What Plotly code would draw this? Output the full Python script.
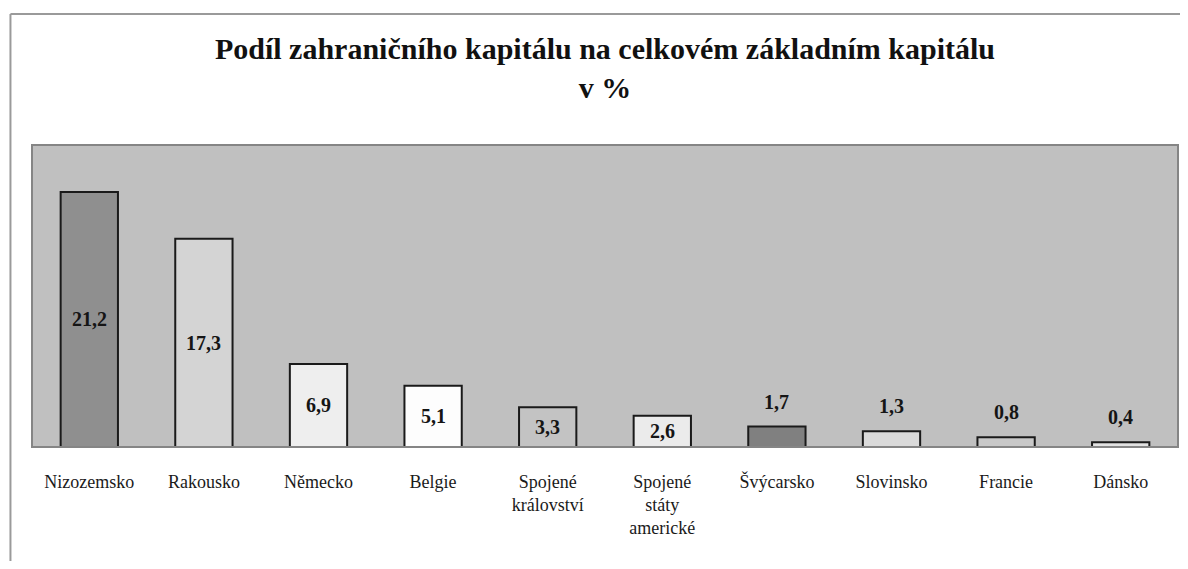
import plotly.graph_objects as go

categories = ["Nizozemsko", "Rakousko", "Německo", "Belgie", "Spojené<br>království",
              "Spojené<br>státy<br>americké", "Švýcarsko", "Slovinsko", "Francie", "Dánsko"]
values = [21.2, 17.3, 6.9, 5.1, 3.3, 2.6, 1.7, 1.3, 0.8, 0.4]
labels = ["21,2", "17,3", "6,9", "5,1", "3,3", "2,6", "1,7", "1,3", "0,8", "0,4"]
inside = [True, True, True, True, True, True, False, False, False, False]
colors = ["#8f8f8f", "#d4d4d4", "#eeeeee", "#fdfdfd", "#c3c3c3",
          "#ebebeb", "#808080", "#dadada", "#c8c8c8", "#e2e2e2"]

title_text = "Podíl zahraničního kapitálu na celkovém základním kapitálu<br>v %"
FONT = "Liberation Serif, Times New Roman, serif"

fig = go.Figure()
fig.add_trace(go.Bar(
    x=categories, y=values,
    marker=dict(color=colors, line=dict(color="#1a1a1a", width=2)),
    width=0.5, hoverinfo="skip",
))

for c, v, t, ins in zip(categories, values, labels, inside):
    if ins:
        fig.add_annotation(x=c, y=v / 2, text=f"<b>{t}</b>", showarrow=False,
                           xanchor="center", yanchor="middle",
                           font=dict(family=FONT, size=20, color="#151515"))
    else:
        fig.add_annotation(x=c, y=v, text=f"<b>{t}</b>", showarrow=False,
                           xanchor="center", yanchor="bottom", yshift=12,
                           font=dict(family=FONT, size=20, color="#151515"))

# plot area frame
fig.add_shape(type="rect", xref="paper", yref="paper", x0=0, x1=1, y0=0, y1=1,
              line=dict(color="#858585", width=2), layer="above")
# outer chart frame (left and top edges)
fig.add_shape(type="line", xref="paper", yref="paper", x0=-0.0188, x1=-0.0188, y0=1.434, y1=-0.45,
              line=dict(color="#9a9a9a", width=2))
fig.add_shape(type="line", xref="paper", yref="paper", x0=-0.0188, x1=1.02, y0=1.434, y1=1.434,
              line=dict(color="#9a9a9a", width=2))

fig.update_layout(
    width=1172, height=553,
    margin=dict(l=24, r=2, t=137, b=114),
    paper_bgcolor="white", plot_bgcolor="#c0c0c0",
    showlegend=False,
    title=dict(text=f"<b>{title_text}</b>", x=0.5, xref="paper", xanchor="center",
               y=0.908, yanchor="top", yref="container",
               font=dict(family=FONT, size=30, color="#111")),
    font=dict(family=FONT),
    bargap=0.5,
)
fig.update_xaxes(showgrid=False, showline=False, zeroline=False,
                 ticks="outside", ticklen=18, tickcolor="rgba(0,0,0,0)",
                 tickfont=dict(family=FONT, size=18, color="#1a1a1a"), tickangle=0)
fig.update_yaxes(range=[0, 25.1], visible=False, showgrid=False, zeroline=False)

fig.write_html("out.html")
